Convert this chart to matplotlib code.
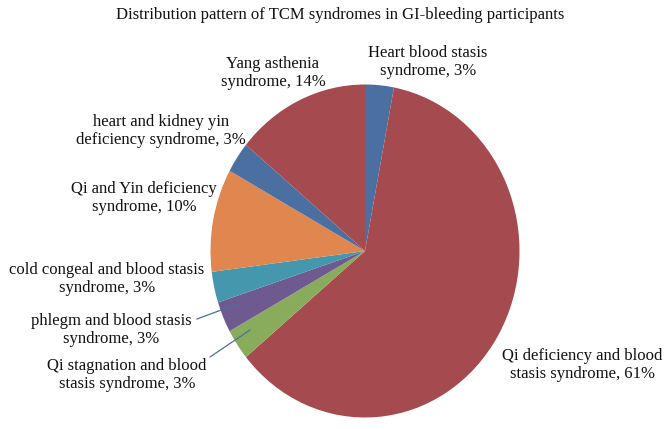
import matplotlib.pyplot as plt

# slices, clockwise from the top
labels = [
    "Heart blood stasis\nsyndrome, 3%",
    "Qi deficiency and blood\nstasis syndrome, 61%",
    "Qi stagnation and blood\nstasis syndrome, 3%",
    "phlegm and blood stasis\nsyndrome, 3%",
    "cold congeal and blood stasis\nsyndrome, 3%",
    "Qi and Yin deficiency\nsyndrome, 10%",
    "heart and kidney yin\ndeficiency syndrome, 3%",
    "Yang asthenia\nsyndrome, 14%",
]
values = [3, 61, 3, 3, 3, 10, 3, 14]
colors = ["#4a6fa0", "#a54b4f", "#88ab5c", "#6e5a8e", "#4597ae",
          "#e0864f", "#4a6fa0", "#a54b4f"]
title = "Distribution pattern of TCM syndromes in GI-bleeding participants"

plt.rcParams['font.family'] = ['Liberation Serif', 'DejaVu Serif']

W, H = 671, 429
fig = plt.figure(figsize=(W / 100, H / 100), dpi=100)
ax = fig.add_axes([0, 0, 1, 1])

# pie centre and radii in pixels (the original is slightly squashed)
cx, cy, rx, ry = 365, 251, 154.5, 166.5

ax.pie(values, colors=colors, startangle=90, counterclock=False,
       wedgeprops=dict(linewidth=0))
ax.set_aspect('auto')
ax.set_xlim(-cx / rx, (W - cx) / rx)
ax.set_ylim(-(H - cy) / ry, cy / ry)
ax.axis('off')


def px(x, y):
    return (x - cx) / rx, (cy - y) / ry


# label centres in pixels
label_pos = [(428, 62), (582, 365), (127, 375), (111, 330), (107, 279),
             (144, 198), (161, 131), (273, 73)]
leaders = {2: ((210, 357), (250, 330)), 3: ((197, 319), (240, 303))}

for i, (lab, (x, y)) in enumerate(zip(labels, label_pos)):
    ax.text(*px(x, y), lab, ha='center', va='center', fontsize=12,
            linespacing=1.2, color='#111111')
    if i in leaders:
        (x0, y0), (x1, y1) = leaders[i]
        ax.plot(*zip(px(x0, y0), px(x1, y1)), color='#4a6fa0', lw=0.9)

ax.text(*px(340, 15), title, ha='center', va='center', fontsize=12,
        color='#111111')

fig.savefig('out.png', dpi=100)
